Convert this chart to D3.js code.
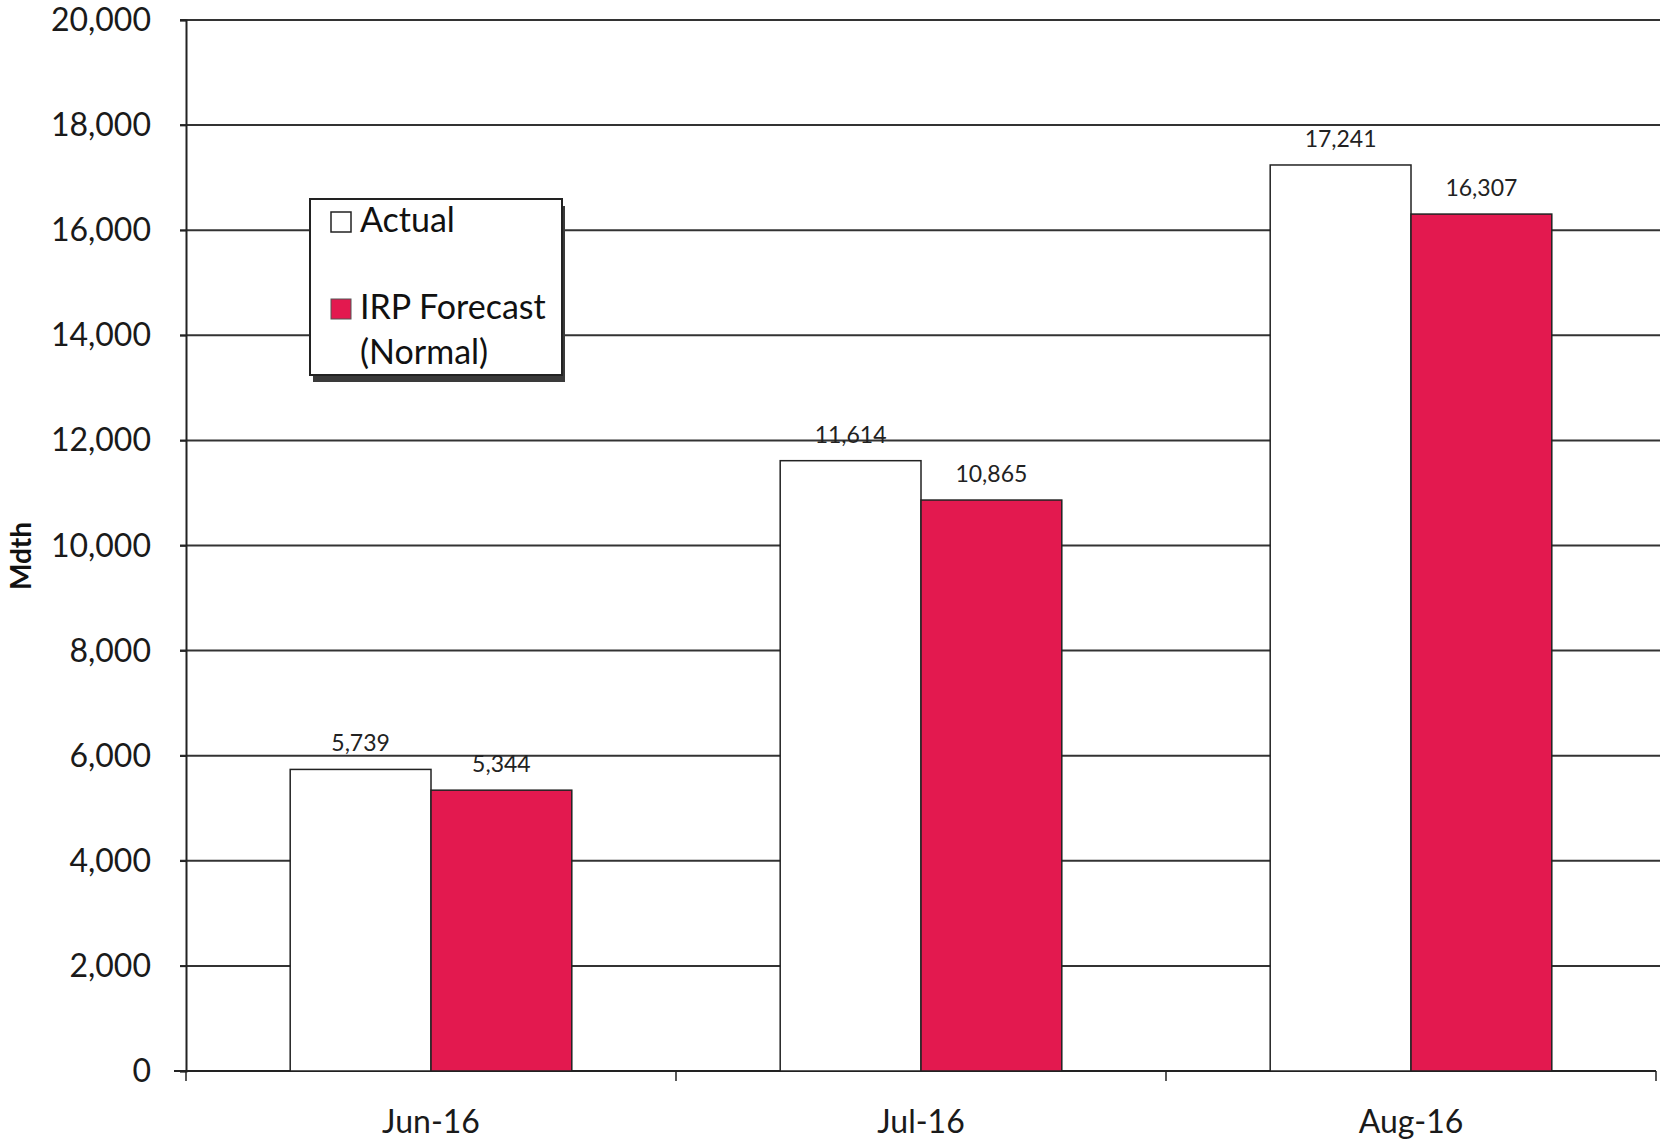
<!DOCTYPE html>
<html><head><meta charset="utf-8">
<script src="https://cdn.jsdelivr.net/npm/d3@7"></script>
<style>body{margin:0;background:#fff}svg{display:block}</style>
</head><body>
<script>
const categories = ["Jun-16", "Jul-16", "Aug-16"];
const seriesNames = ["Actual", "IRP Forecast (Normal)"];
const actual = [5739, 11614, 17241];
const forecast = [5344, 10865, 16307];
const yTicks = [0, 2000, 4000, 6000, 8000, 10000, 12000, 14000, 16000, 18000, 20000];
const yLabel = "Mdth";

const W = 1668, H = 1144;
const m = {left: 186, right: 14, top: 20, bottom: 73};
const svg = d3.select("body").append("svg").attr("width", W).attr("height", H);
const font = "Lato, 'Open Sans', sans-serif";
const red = "#E3194F";

const x = d3.scaleBand().domain(categories).range([m.left, 1656]).paddingInner(0).paddingOuter(0);
const y = d3.scaleLinear().domain([0, 20000]).range([H - m.bottom, m.top]);

// gridlines
svg.append("g").selectAll("line").data(yTicks.filter(d => d > 0)).join("line")
  .attr("x1", m.left - 6).attr("x2", 1660).attr("y1", d => y(d)).attr("y2", d => y(d))
  .attr("stroke", "#333").attr("stroke-width", 2);

// y axis
const yAxis = svg.append("g").attr("transform", `translate(${m.left},0)`)
  .call(d3.axisLeft(y).tickValues(yTicks).tickSize(6).tickPadding(29).tickFormat(d3.format(",")));
yAxis.select(".domain").attr("stroke", "#222").attr("stroke-width", 2);
yAxis.selectAll(".tick line").attr("stroke", "#222").attr("stroke-width", 1.5);
yAxis.selectAll("text").attr("font-family", font).attr("font-size", 32).attr("fill", "#1a1a1a").attr("dy", "0.33em");

// x axis
const xAxis = svg.append("g").attr("transform", `translate(0,${y(0)})`)
  .call(d3.axisBottom(x).tickSize(0).tickPadding(39));
xAxis.select(".domain").attr("stroke", "#222").attr("stroke-width", 2).attr("d", `M${m.left - 12},0H1656`);
xAxis.selectAll("text").attr("font-family", font).attr("font-size", 32).attr("fill", "#1a1a1a");
// x ticks at band boundaries
const bounds = categories.map(c => x(c)).concat([x(categories[2]) + x.bandwidth()]);
svg.append("g").selectAll("line").data(bounds).join("line")
  .attr("x1", d => d).attr("x2", d => d).attr("y1", y(0)).attr("y2", y(0) + 10)
  .attr("stroke", "#222").attr("stroke-width", 1.5);

const xs = d3.scaleBand().domain(seriesNames).range([0, x.bandwidth()]).paddingOuter(0.74).paddingInner(0);

const data = categories.map((c, i) => ({c, vals: [actual[i], forecast[i]]}));
const g = svg.append("g");
data.forEach(d => {
  d.vals.forEach((v, j) => {
    const bx = x(d.c) + xs(seriesNames[j]);
    g.append("rect").attr("x", bx).attr("y", y(v)).attr("width", xs.bandwidth()).attr("height", y(0) - y(v))
      .attr("fill", j === 0 ? "#fff" : red).attr("stroke", "#222").attr("stroke-width", 1.5);
    g.append("text").attr("x", bx + xs.bandwidth() / 2).attr("y", y(v) - 18)
      .attr("text-anchor", "middle").attr("font-family", font).attr("font-size", 23).attr("fill", "#222")
      .text(d3.format(",")(v));
  });
});

// y label
svg.append("text").attr("transform", "translate(31,556) rotate(-90)").attr("text-anchor", "middle")
  .attr("font-family", font).attr("font-weight", "bold").attr("font-size", 28).attr("fill", "#111").text(yLabel);

// legend
const lg = svg.append("g");
lg.append("rect").attr("x", 313).attr("y", 206).attr("width", 252).attr("height", 176).attr("fill", "#3a3a3a");
lg.append("rect").attr("x", 310).attr("y", 199).attr("width", 252).attr("height", 176).attr("fill", "#fff").attr("stroke", "#222").attr("stroke-width", 2);
lg.append("rect").attr("x", 331).attr("y", 212).attr("width", 20).attr("height", 20).attr("fill", "#fff").attr("stroke", "#222").attr("stroke-width", 1.5);
lg.append("text").attr("x", 360).attr("y", 232).attr("font-family", font).attr("font-size", 34).attr("fill", "#111").text(seriesNames[0]);
lg.append("rect").attr("x", 331).attr("y", 299).attr("width", 20).attr("height", 20).attr("fill", red).attr("stroke", "#555").attr("stroke-width", 1);
lg.append("text").attr("x", 360).attr("y", 319).attr("font-family", font).attr("font-size", 34).attr("fill", "#111").text("IRP Forecast");
lg.append("text").attr("x", 360).attr("y", 364).attr("font-family", font).attr("font-size", 34).attr("fill", "#111").text("(Normal)");
</script>
</body></html>
